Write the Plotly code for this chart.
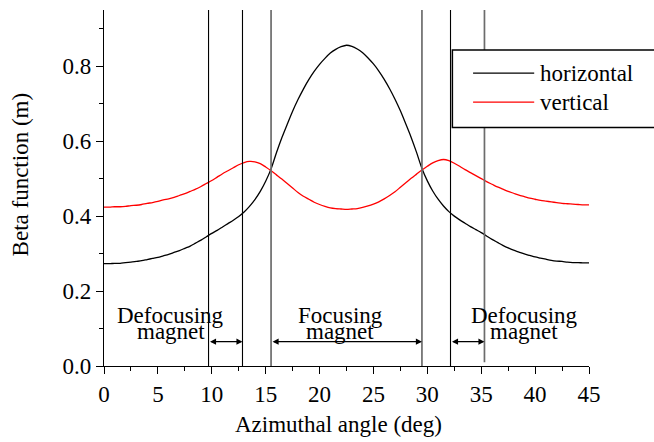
import plotly.graph_objects as go

# Azimuthal angle (deg), 0.5 deg sampling over one cell
angle = [i * 0.5 for i in range(91)]

# Horizontal beta function (m)
beta_h = [0.273, 0.273, 0.274, 0.274, 0.276, 0.277, 0.279, 0.281, 0.284, 0.287,
          0.290, 0.294, 0.298, 0.303, 0.308, 0.314, 0.320, 0.328, 0.336, 0.345,
          0.354, 0.362, 0.371, 0.380, 0.389, 0.399, 0.411, 0.426, 0.444, 0.466,
          0.493, 0.526, 0.569, 0.609, 0.645, 0.680, 0.711, 0.739, 0.764, 0.786,
          0.805, 0.821, 0.835, 0.845, 0.852, 0.856,
          0.853, 0.846, 0.836, 0.822, 0.806, 0.787, 0.765, 0.740, 0.712, 0.681,
          0.646, 0.610, 0.570, 0.527, 0.494, 0.467, 0.445, 0.427, 0.412, 0.400,
          0.390, 0.381, 0.372, 0.364, 0.356, 0.347, 0.338, 0.330, 0.322, 0.315,
          0.309, 0.304, 0.299, 0.295, 0.291, 0.288, 0.285, 0.282, 0.280, 0.279,
          0.277, 0.276, 0.276, 0.275, 0.275]

# Vertical beta function (m)
beta_v = [0.424, 0.424, 0.425, 0.425, 0.426, 0.428, 0.429, 0.431, 0.434, 0.436,
          0.439, 0.443, 0.446, 0.450, 0.455, 0.460, 0.466, 0.472, 0.479, 0.487,
          0.495, 0.504, 0.513, 0.521, 0.529, 0.537, 0.543, 0.546, 0.545, 0.540,
          0.531, 0.521, 0.510, 0.499, 0.487, 0.475, 0.463, 0.453, 0.445, 0.437,
          0.431, 0.426, 0.422, 0.420, 0.419, 0.418,
          0.419, 0.420, 0.423, 0.427, 0.432, 0.438, 0.446, 0.455, 0.465, 0.477,
          0.489, 0.501, 0.512, 0.523, 0.533, 0.542, 0.548, 0.551, 0.548, 0.541,
          0.533, 0.524, 0.516, 0.508, 0.500, 0.492, 0.485, 0.478, 0.472, 0.466,
          0.461, 0.456, 0.452, 0.448, 0.445, 0.442, 0.440, 0.438, 0.436, 0.434,
          0.433, 0.432, 0.431, 0.430, 0.430]

# Magnet edges (deg)
edges = [9.7, 12.85, 15.5, 29.5, 32.15, 35.3]
# Magnet spans (start, end) marked with arrows, and their labels
spans = [(9.7, 12.85), (15.5, 29.5), (32.15, 35.3)]
span_labels = [("Defocusing", "magnet"), ("Focusing", "magnet"), ("Defocusing", "magnet")]
label_centers = [6.2, 21.9, 39.0]

series_names = ["horizontal", "vertical"]
series_colors = ["black", "#ff0000"]

FONT = "Liberation Serif, Times New Roman, serif"
FS = 23

fig = go.Figure()
for name, vals, col in zip(series_names, [beta_h, beta_v], series_colors):
    fig.add_trace(go.Scatter(x=angle, y=vals, mode="lines", name=name,
                             line=dict(color=col, width=1.3, shape="spline",
                                       smoothing=0.8),
                             showlegend=False))

shapes = []
edge_colors = ["black", "black", "#6c6c6c", "#6c6c6c", "black", "#6c6c6c"]
edge_widths = [1.1, 1.1, 1.7, 1.7, 1.1, 1.7]
edge_bottoms = [0, 0, 0, 0, 0, 0.01]
for e, c, w, b in zip(edges, edge_colors, edge_widths, edge_bottoms):
    shapes.append(dict(type="line", xref="x", yref="y", x0=e, x1=e, y0=b, y1=0.96,
                       line=dict(color=c, width=w), layer="above"))

# Legend box, partially running off the right edge
shapes.append(dict(type="rect", xref="paper", yref="paper", x0=0.7183, x1=1.2,
                   y0=0.6702, y1=0.8876, line=dict(color="black", width=1.5),
                   fillcolor="white", layer="above"))
legend_y = [0.8229, 0.7414]
for col, ly in zip(series_colors, legend_y):
    shapes.append(dict(type="line", xref="paper", yref="paper", x0=0.761, x1=0.887,
                       y0=ly, y1=ly, line=dict(color=col, width=1.3), layer="above"))

annotations = []
for name, ly in zip(series_names, legend_y):
    annotations.append(dict(xref="paper", yref="paper", x=0.895, y=ly, text=name,
                            showarrow=False, xanchor="left", yanchor="middle",
                            font=dict(family=FONT, size=FS, color="black")))

arrow_y = 0.065
for (s0, s1), (l1, l2), xc in zip(spans, span_labels, label_centers):
    annotations.append(dict(x=s1, y=arrow_y, ax=s0, ay=arrow_y, xref="x", yref="y",
                            axref="x", ayref="y", text="", showarrow=True,
                            arrowhead=2, startarrowhead=2, arrowside="end+start",
                            arrowsize=1.1, startarrowsize=1.1, arrowwidth=1.1,
                            arrowcolor="black", standoff=0, startstandoff=0))
    annotations.append(dict(x=xc, y=0.134, xref="x", yref="y", text=l1, showarrow=False,
                            font=dict(family=FONT, size=FS, color="black")))
    annotations.append(dict(x=xc, y=0.092, xref="x", yref="y", text=l2, showarrow=False,
                            font=dict(family=FONT, size=FS, color="black")))

annotations.append(dict(xref="paper", yref="paper", x=0.483, y=-0.165,
                        text="Azimuthal angle (deg)", showarrow=False,
                        xanchor="center", yanchor="middle",
                        font=dict(family=FONT, size=FS, color="black")))
annotations.append(dict(xref="paper", yref="paper", x=-0.172, y=0.537,
                        text="Beta function (m)", showarrow=False, textangle=-90,
                        xanchor="center", yanchor="middle",
                        font=dict(family=FONT, size=FS, color="black")))

fig.update_layout(
    width=654, height=442,
    margin=dict(l=104, r=65, t=10, b=76),
    paper_bgcolor="white", plot_bgcolor="white",
    shapes=shapes, annotations=annotations,
    font=dict(family=FONT, size=FS, color="black"),
    xaxis=dict(range=[0, 45], tick0=0, dtick=5, ticks="outside", ticklen=7,
               tickwidth=1.2, tickcolor="black", showline=True, linecolor="black",
               linewidth=1.3, showgrid=False, zeroline=False,
               minor=dict(dtick=2.5, ticks="outside", ticklen=4, tickwidth=1.2,
                          tickcolor="black", showgrid=False),
               tickfont=dict(family=FONT, size=FS)),
    yaxis=dict(range=[0, 0.95], tick0=0, dtick=0.2, tickformat=".1f", ticks="outside",
               ticklen=7, tickwidth=1.2, tickcolor="black", showline=True,
               linecolor="black", linewidth=1.3, showgrid=False, zeroline=False,
               minor=dict(dtick=0.1, ticks="outside", ticklen=4, tickwidth=1.2,
                          tickcolor="black", showgrid=False),
               tickfont=dict(family=FONT, size=FS)),
)

fig.write_html("out.html")
